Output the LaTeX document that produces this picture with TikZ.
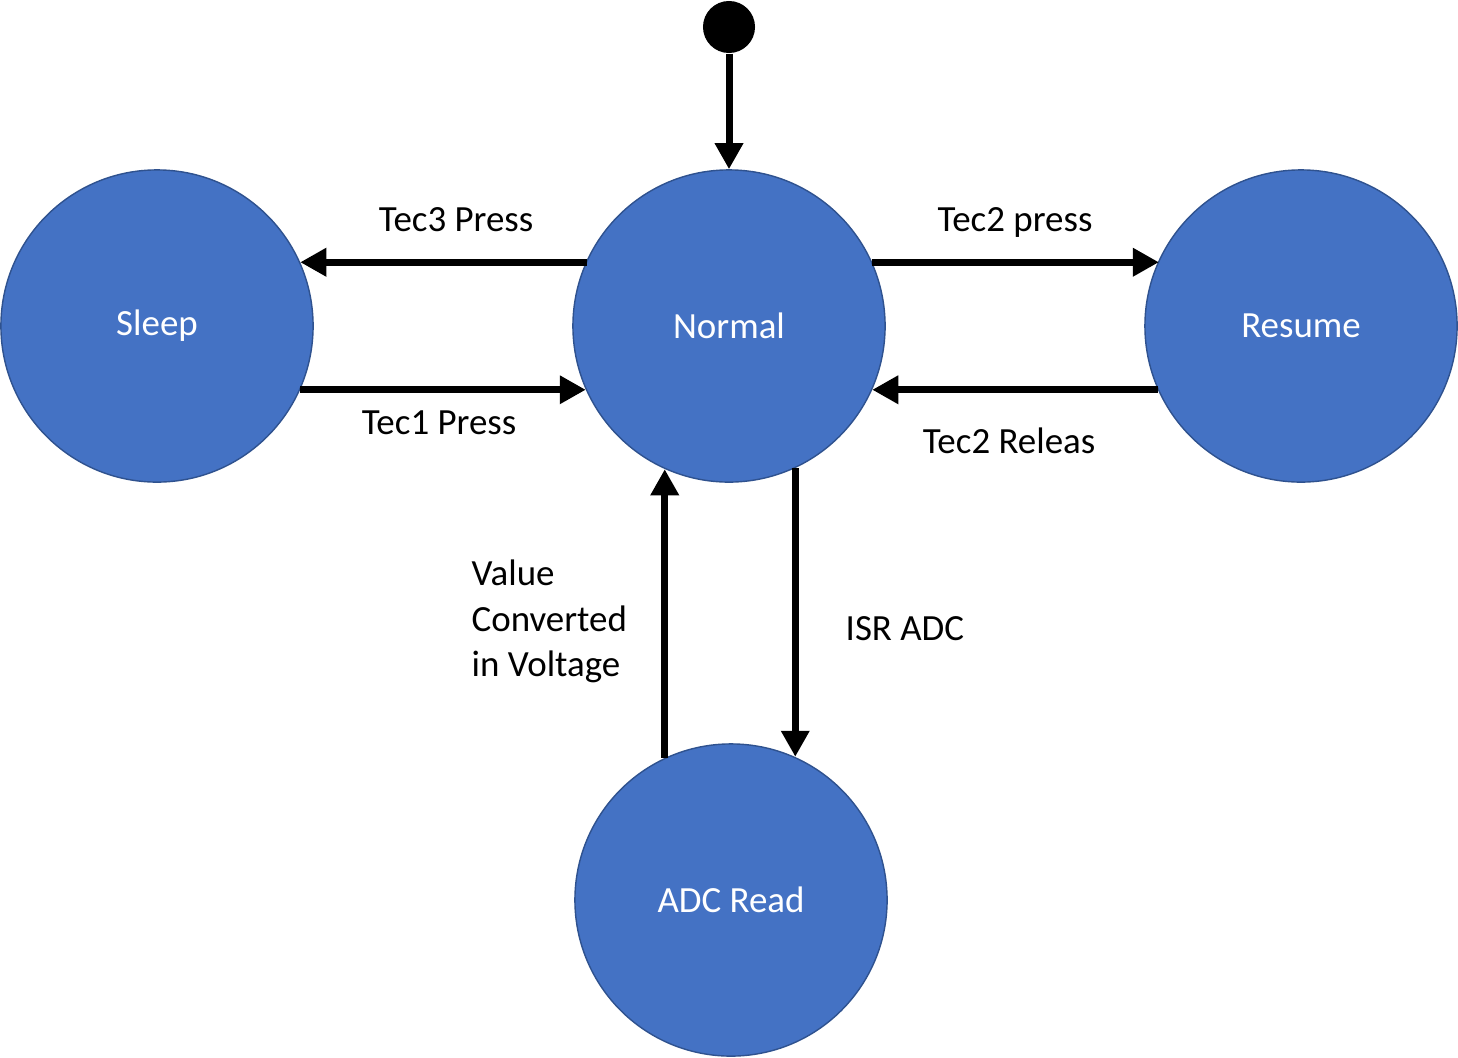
\documentclass[tikz,border=0pt]{standalone}
\usepackage{fontspec}
\setmainfont{Carlito}
\usetikzlibrary{arrows.meta}
\definecolor{stfill}{HTML}{4472C4}
\definecolor{stdraw}{HTML}{2F528F}
\begin{document}
\begin{tikzpicture}[x=0.01cm,y=-0.01cm,
  state/.style={circle,fill=stfill,draw=stdraw,line width=0.4pt,minimum size=3.12cm,inner sep=0pt,text=white,font=\fontsize{10.5}{12.7}\selectfont},
  lbl/.style={font=\fontsize{10.5}{12.8}\selectfont,inner sep=0pt},
  trans/.style={line width=0.07cm,-{Triangle[length=0.26cm,width=0.27cm]}}]
\useasboundingbox (0,0) rectangle (1458,1057);
\node[circle,fill=black,minimum size=0.52cm,inner sep=0pt] (init) at (729,27) {};
\node[state] (sleep) at (157,326) {Sleep};
\node[state] (normal) at (729,326) {Normal};
\node[state] (resume) at (1301,326) {Resume};
\node[state] (adc) at (731,900) {ADC Read};

\draw[trans] (init.south) -- (normal.north);
\draw[trans] (normal.155.78 |- normal.24.22) -- (sleep.24.22 |- normal.24.22);
\draw[trans] (sleep.-24.62) -- (normal.204.62 |- sleep.-24.62);
\draw[trans] (normal.24.22) -- (resume.155.78 |- normal.24.22);
\draw[trans] (resume.204.62) -- (normal.-24.62 |- resume.204.62);
\draw[trans] (normal.-65.38) -- (normal.-65.38 |- adc.66.18);
\draw[trans] (adc.115.43) -- (adc.115.43 |- normal.-114.62);

\node[lbl,anchor=base] (l3) at (456,231) {Tec3 Press};
\node[lbl,anchor=base] (l1) at (439,434) {Tec1 Press};
\node[lbl,anchor=base] (l2p) at (1015,231) {Tec2 press};
\node[lbl,anchor=base] (l2r) at (1009,453) {Tec2 Releas};
\node[lbl,anchor=base west] (lisr) at (845,640) {ISR ADC};
\node[lbl,anchor=base west,align=left] (lval) at (471,676) {Value\\Converted\\in Voltage};
\end{tikzpicture}
\end{document}
